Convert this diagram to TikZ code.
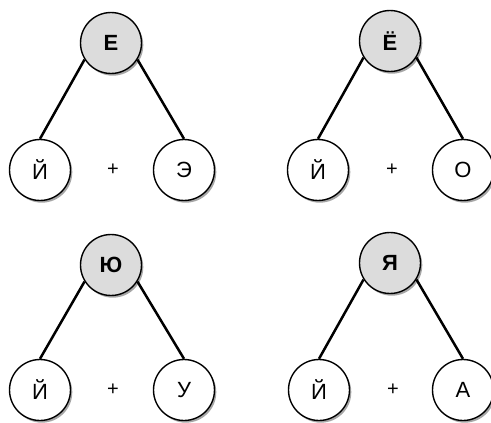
\documentclass[tikz,border=0pt]{standalone}
\usepackage{fontspec}
\setmainfont{Liberation Sans}
\usetikzlibrary{shadows}
\definecolor{rootfill}{HTML}{DCDCDC}
\tikzset{
  x=1pt, y=-1pt,
  ball/.style={circle, draw=black, line width=1.4pt, minimum size=61pt, inner sep=0pt,
    font=\fontsize{22pt}{22pt}\selectfont,
    drop shadow={shadow xshift=1.8pt, shadow yshift=-2.2pt, fill=black, opacity=0.35}},
  rootball/.style={ball, fill=rootfill, font=\fontsize{22pt}{22pt}\selectfont\bfseries},
  leafball/.style={ball, fill=white},
  plus/.style={font=\fontsize{20pt}{20pt}\selectfont},
  edge/.style={line width=2.5pt, black},
}
\begin{document}
\begin{tikzpicture}
\useasboundingbox (0,0) rectangle (491,423);
% tree 1
\node[rootball] (r1) at (111,43) {Е};
\node[leafball] (a1) at (40,170) {Й};
\node[leafball] (b1) at (184,170) {Э};
\node[plus] (p1) at (113,170) {+};
% tree 2
\node[rootball] (r2) at (390,41) {Ё};
\node[leafball] (a2) at (318,170) {Й};
\node[leafball] (b2) at (463,170) {О};
\node[plus] (p2) at (392,170) {+};
% tree 3
\node[rootball] (r3) at (111,265) {Ю};
\node[leafball] (a3) at (40,390) {Й};
\node[leafball] (b3) at (184,390) {У};
\node[plus] (p3) at (113,390) {+};
% tree 4
\node[rootball] (r4) at (390,263) {Я};
\node[leafball] (a4) at (319,390) {Й};
\node[leafball] (b4) at (463,390) {А};
\node[plus] (p4) at (393,390) {+};
\foreach \i in {1,2,3,4}{
  \draw[edge] (r\i.-148) -- (a\i.north);
  \draw[edge] (r\i.-32) -- (b\i.north);
}
\end{tikzpicture}
\end{document}
